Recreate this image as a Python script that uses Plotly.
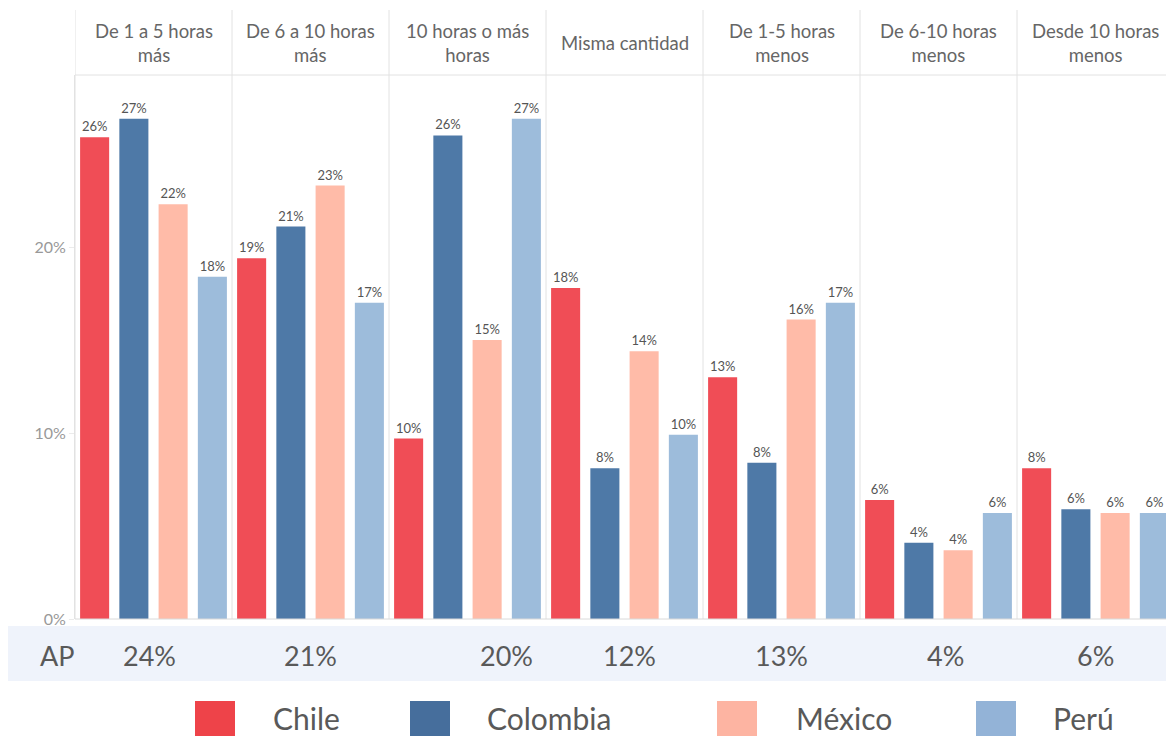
import plotly.graph_objects as go

# Change in weekly hours, by country (percent of respondents)
categories = [
    "De 1 a 5 horas<br>más",
    "De 6 a 10 horas<br>más",
    "10 horas o más<br>horas",
    "Misma cantidad",
    "De 1-5 horas<br>menos",
    "De 6-10 horas<br>menos",
    "Desde 10 horas<br>menos",
]
countries = ["Chile", "Colombia", "México", "Perú"]

chile = [25.9, 19.4, 9.7, 17.8, 13.0, 6.4, 8.1]
colombia = [26.9, 21.1, 26.0, 8.1, 8.4, 4.1, 5.9]
mexico = [22.3, 23.3, 15.0, 14.4, 16.1, 3.7, 5.7]
peru = [18.4, 17.0, 26.9, 9.9, 17.0, 5.7, 5.7]

# Regional aggregate (AP) per category
ap_values = ["24%", "21%", "20%", "12%", "13%", "4%", "6%"]

y_ticks = [0, 10, 20]
y_tick_labels = ["0%", "10%", "20%"]

colors = ["#F04D56", "#4E79A7", "#FFBBA8", "#9DBCDB"]
legend_colors = ["#EE4349", "#466E9C", "#FDB4A2", "#93B3D7"]
series = [chile, colombia, mexico, peru]

# Pixel layout helpers (figure 1166x736, plot area 75..1166 x 75..619)
W, H = 1166, 736
L, T, B = 75, 75, 619
PW, PH = W - L, B - T


def px_x(x):
    return (x - L) / PW


def px_y(y):
    return (B - y) / PH


fig = go.Figure()
for name, vals, col in zip(countries, series, colors):
    fig.add_trace(go.Bar(
        name=name,
        x=list(range(len(categories))),
        y=vals,
        marker=dict(color=col, line=dict(width=0)),
        texttemplate="%{y:.0f}%",
        textposition="outside",
        textfont=dict(family="Lato", size=13, color="#555555"),
        constraintext="none",
        cliponaxis=False,
        showlegend=False,
    ))

shapes = []
# Panel separators (vertical) running through the header row
for i in range(len(categories) + 1):
    shapes.append(dict(
        type="line", xref="x", yref="paper",
        x0=i - 0.5, x1=i - 0.5, y0=0, y1=px_y(10),
        line=dict(color="#E2E2E2", width=1), layer="below",
    ))
# Header bottom rule
shapes.append(dict(
    type="line", xref="paper", yref="paper",
    x0=0, x1=1, y0=1, y1=1,
    line=dict(color="#E2E2E2", width=1),
))
# Baseline
shapes.append(dict(
    type="line", xref="paper", yref="paper",
    x0=0, x1=1, y0=0, y1=0,
    line=dict(color="#DADADA", width=1),
))
# AP band
shapes.append(dict(
    type="rect", xref="paper", yref="paper",
    x0=px_x(8), x1=1, y0=px_y(626), y1=px_y(681),
    fillcolor="#EFF3FB", line=dict(width=0), layer="below",
))

annotations = []
# Header labels
for i, cat in enumerate(categories):
    annotations.append(dict(
        x=i, y=px_y(43), xref="x", yref="paper",
        text=cat, showarrow=False,
        font=dict(family="Lato", size=18.5, color="#666666"),
        xanchor="center", yanchor="middle",
    ))

# AP row
annotations.append(dict(
    x=px_x(57), y=px_y(655), xref="paper", yref="paper",
    text="AP", showarrow=False,
    font=dict(family="Lato", size=27, color="#595959"),
    xanchor="center", yanchor="middle",
))
ap_shift = [-4, 0, 39, 5, 0, 7, 0]
for i, (v, s) in enumerate(zip(ap_values, ap_shift)):
    annotations.append(dict(
        x=i, y=px_y(655), xref="x", yref="paper",
        text=v, showarrow=False, xshift=s,
        font=dict(family="Lato", size=27, color="#595959"),
        xanchor="center", yanchor="middle",
    ))

# Custom legend with large square swatches
legend_sq = [195, 410, 717, 976]
legend_txt = [273, 487, 796, 1053]
for name, col, sx, tx in zip(countries, legend_colors, legend_sq, legend_txt):
    shapes.append(dict(
        type="rect", xref="paper", yref="paper",
        x0=px_x(sx), x1=px_x(sx + 40), y0=px_y(701), y1=px_y(740),
        fillcolor=col, line=dict(width=0),
    ))
    annotations.append(dict(
        x=px_x(tx - 2), y=px_y(718), xref="paper", yref="paper",
        text=name, showarrow=False,
        font=dict(family="Lato", size=30, color="#595959"),
        xanchor="left", yanchor="middle",
    ))

fig.update_layout(
    width=W, height=H,
    margin=dict(l=L, r=0, t=T, b=H - B, pad=0),
    paper_bgcolor="white", plot_bgcolor="white",
    barmode="group", bargap=0, bargroupgap=0.26,
    shapes=shapes, annotations=annotations,
    xaxis=dict(
        range=[-0.5, -0.5 + PW / 157], showticklabels=False,
        showgrid=False, zeroline=False, showline=False, ticks="",
        fixedrange=True,
    ),
    yaxis=dict(
        range=[0, PH / 18.6], tickmode="array",
        tickvals=y_ticks, ticktext=y_tick_labels,
        showgrid=False, zeroline=False, showline=True,
        linecolor="#E2E2E2", linewidth=1,
        ticks="outside", ticklen=5, tickcolor="#EBEBEB",
        tickfont=dict(family="Lato", size=16, color="#999999"),
        fixedrange=True,
    ),
    showlegend=False,
)

fig.write_html("out.html")
